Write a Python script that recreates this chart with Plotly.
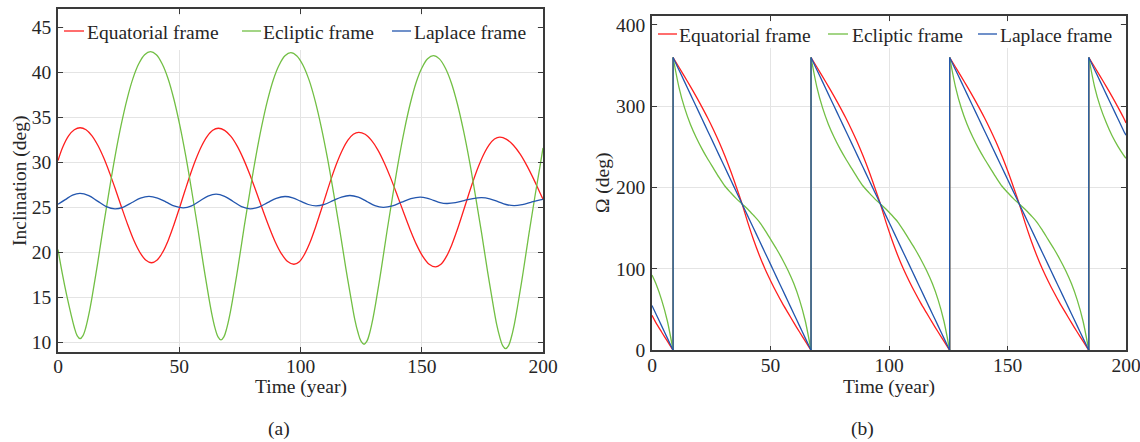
import plotly.graph_objects as go

W, H = 1140, 442

# ---------------- data: (a) inclination ----------------
t_eq = [0, 1.98, 4.35, 6.73,
        9.1, 11.56, 14.02, 16.47, 18.93, 21.39, 23.85, 26.31, 28.76, 31.22, 33.68, 36.14, 38.6,
        40.89, 43.18, 45.48, 47.77, 50.06, 52.35, 54.64, 56.93, 59.23, 61.52, 63.81, 66.1,
        68.7, 71.3, 73.9, 76.5, 79.1, 81.7, 84.3, 86.9, 89.5, 92.1, 94.7, 97.3,
        99.53, 101.75, 103.98, 106.2, 108.43, 110.65, 112.88, 115.1, 117.33, 119.55, 121.78, 124.0,
        126.64, 129.28, 131.93, 134.57, 137.21, 139.85, 142.49, 145.13, 147.78, 150.42, 153.06, 155.7,
        157.91, 160.12, 162.32, 164.53, 166.74, 168.95, 171.16, 173.37, 175.57, 177.78, 179.99, 182.2,
        185.0, 187.8, 190.6, 193.4, 196.2, 198.6, 200]
i_eq = [30.2, 31.7, 32.94, 33.62,
        33.84, 33.62, 32.94, 31.86, 30.44, 28.74, 26.87, 24.93, 23.06, 21.36, 20.03, 19.14, 18.84,
        19.14, 20.02, 21.35, 23.04, 24.9, 26.83, 28.7, 30.39, 31.81, 32.88, 33.56, 33.78,
        33.55, 32.87, 31.79, 30.35, 28.64, 26.75, 24.8, 22.92, 21.21, 19.86, 18.97, 18.67,
        18.96, 19.83, 21.13, 22.79, 24.62, 26.51, 28.35, 30.0, 31.39, 32.45, 33.11, 33.33,
        33.11, 32.43, 31.36, 29.93, 28.24, 26.37, 24.44, 22.57, 20.88, 19.55, 18.67, 18.37,
        18.66, 19.51, 20.79, 22.42, 24.23, 26.09, 27.89, 29.52, 30.89, 31.93, 32.58, 32.8,
        32.55, 31.9, 30.9, 29.6, 28.1, 26.7, 25.9]

t_ec = [0, 1.8, 3.6, 5.47, 6.68, 7.89,
        9.1, 10.31, 11.52, 12.73, 13.94, 16.36, 18.78, 21.2, 23.62, 26.04, 28.46, 30.88, 33.3, 35.72, 38.14,
        40.56, 42.98, 45.4, 47.82, 50.24, 52.66, 55.08, 57.5, 59.92, 62.34, 63.55, 64.76, 65.99, 67.2,
        68.4, 69.6, 70.8, 72.0, 74.4, 76.8, 79.2, 81.6, 84.0, 86.4, 88.8, 91.2, 93.6, 96.0,
        98.52, 101.03, 103.55, 106.07, 108.58, 111.1, 113.62, 116.13, 118.65, 121.17, 122.42, 123.68, 124.94, 126.2,
        127.39, 128.58, 129.77, 130.97, 133.35, 135.73, 138.12, 140.5, 142.88, 145.27, 147.65, 150.03, 152.42, 154.8,
        157.28, 159.77, 162.25, 164.73, 167.22, 169.7, 172.18, 174.67, 177.15, 179.63, 180.87, 182.12, 183.36, 184.6,
        185.8, 187.0, 188.2, 189.4, 191.8, 194.2, 196.6, 199.0, 200]
i_ec = [20.3, 17.6, 15.2, 13.0, 11.7, 10.74,
        10.4, 10.74, 11.7, 13.12, 14.86, 18.8, 23.0, 27.0, 30.8, 34.15, 37.0, 39.3, 40.95, 41.96, 42.3,
        41.95, 40.92, 39.29, 36.98, 34.1, 30.73, 26.92, 22.92, 18.69, 14.75, 12.98, 11.57, 10.6, 10.26,
        10.6, 11.57, 12.98, 14.73, 18.65, 22.87, 26.86, 30.66, 34.01, 36.88, 39.18, 40.81, 41.83, 42.18,
        41.82, 40.79, 39.13, 36.8, 33.89, 30.48, 26.63, 22.58, 18.3, 14.32, 12.5, 11.11, 10.12, 9.78,
        10.12, 11.09, 12.5, 14.27, 18.21, 22.45, 26.46, 30.27, 33.64, 36.53, 38.84, 40.47, 41.5, 41.85,
        41.49, 40.45, 38.79, 36.45, 33.51, 30.10, 26.22, 22.15, 17.85, 13.85, 12.02, 10.63, 9.63, 9.29,
        9.63, 10.61, 12.02, 13.81, 17.78, 22.05, 26.09, 29.93, 31.6]

t_lp = [0, 3, 6, 9.1, 12.7, 16.3, 19.9, 23.5, 27.0, 30.5, 34.0, 37.5,
        41.05, 44.6, 48.15, 51.7, 55.08, 58.45, 61.83, 65.2, 68.7, 72.2, 75.7, 79.2,
        82.8, 86.4, 90.0, 93.6, 96.8, 100.0, 103.2, 106.4, 109.9, 113.4, 116.9, 120.4,
        123.83, 127.25, 130.68, 134.1, 137.9, 141.7, 145.5, 149.3, 152.05, 154.8, 157.55, 160.3,
        163.9, 167.5, 171.1, 174.7, 178.05, 181.4, 184.75, 188.1, 191.5, 195.0, 198.0, 200]
i_lp = [25.33, 25.85, 26.35, 26.54, 26.29, 25.69, 25.08, 24.83, 25.03, 25.53, 26.02, 26.22,
        26.03, 25.58, 25.12, 24.93, 25.15, 25.70, 26.24, 26.46, 26.22, 25.65, 25.07, 24.83,
        25.03, 25.52, 26.0, 26.2, 26.05, 25.68, 25.31, 25.16, 25.33, 25.74, 26.14, 26.31,
        26.12, 25.66, 25.19, 25.0, 25.16, 25.57, 25.96, 26.13, 26.03, 25.78, 25.52, 25.42,
        25.51, 25.75, 25.97, 26.07, 25.94, 25.63, 25.31, 25.18, 25.3, 25.55, 25.76, 25.87]

# ---------------- data: (b) right ascension of node ----------------
t_om = [0, 1.63, 4.05, 6.48, 8.9,
        8.9, 11.33, 13.75, 16.18, 18.6, 21.03, 23.45, 25.88, 28.3, 30.73, 33.15, 35.58, 38.0,
        40.43, 42.85, 45.28, 47.7, 50.13, 52.55, 54.98, 57.4, 59.83, 62.25, 64.68, 67.1,
        67.1, 69.54, 71.98, 74.41, 76.85, 79.29, 81.73, 84.16, 86.6, 89.04, 91.48, 93.91, 96.35,
        98.79, 101.23, 103.66, 106.1, 108.54, 110.98, 113.41, 115.85, 118.29, 120.73, 123.16, 125.6,
        125.6, 128.05, 130.49, 132.94, 135.38, 137.83, 140.28, 142.72, 145.17, 147.61, 150.06, 152.51, 154.95,
        157.4, 159.84, 162.29, 164.74, 167.18, 169.63, 172.07, 174.52, 176.97, 179.41, 181.86, 184.3,
        184.3, 186.75, 189.19, 191.64, 194.08, 196.53, 198.98, 200]
om_eq = [43, 34, 22.5, 11.2, 0,
         360, 348.3, 336.5, 324.5, 312.2, 299.3, 285.9, 271.5, 256, 239.1, 220.7, 200.8, 180,
         157, 136, 117, 100, 85, 71, 58, 46, 34, 22.5, 11.2, 0,
         360, 348.3, 336.5, 324.5, 312.2, 299.3, 285.9, 271.5, 256, 239.1, 220.7, 200.8, 180,
         157, 136, 117, 100, 85, 71, 58, 46, 34, 22.5, 11.2, 0,
         360, 348.3, 336.5, 324.5, 312.2, 299.3, 285.9, 271.5, 256, 239.1, 220.7, 200.8, 180,
         157, 136, 117, 100, 85, 71, 58, 46, 34, 22.5, 11.2, 0,
         360, 348.3, 336.5, 324.5, 312.2, 299.3, 285.9, 279.6]
om_ec = [92.5, 82, 62, 36, 0,
         360, 324, 298, 278, 262, 248, 235.5, 224, 212.5, 202, 194, 186.5, 180,
         173.5, 166, 158, 147.5, 136, 124.5, 112, 98, 82, 62, 36, 0,
         360, 324, 298, 278, 262, 248, 235.5, 224, 212.5, 202, 194, 186.5, 180,
         173.5, 166, 158, 147.5, 136, 124.5, 112, 98, 82, 62, 36, 0,
         360, 324, 298, 278, 262, 248, 235.5, 224, 212.5, 202, 194, 186.5, 180,
         173.5, 166, 158, 147.5, 136, 124.5, 112, 98, 82, 62, 36, 0,
         360, 324, 299, 280, 264, 251, 240, 236]
om_lp = [55, 45, 30, 15, 0,
         360, 345, 330, 315, 300, 285, 270, 255, 240, 225, 210, 195, 180,
         165, 150, 135, 120, 105, 90, 75, 60, 45, 30, 15, 0,
         360, 345, 330, 315, 300, 285, 270, 255, 240, 225, 210, 195, 180,
         165, 150, 135, 120, 105, 90, 75, 60, 45, 30, 15, 0,
         360, 345, 330, 315, 300, 285, 270, 255, 240, 225, 210, 195, 180,
         165, 150, 135, 120, 105, 90, 75, 60, 45, 30, 15, 0,
         360, 345, 330, 315, 300, 285, 270, 264.5]

series_names = ["Equatorial frame", "Ecliptic frame", "Laplace frame"]
colors = ["#ff1f1f", "#72bf44", "#2356ae"]

FONT = "Liberation Serif"
TXT = "#262626"
FS = 19.5


def split_jumps(t, v):
    """Insert gaps at the 0 -> 360 wraps and keep the vertical wrap segment."""
    xs, ys = [t[0]], [v[0]]
    for i in range(1, len(t)):
        if v[i] - v[i - 1] > 180:
            xs += [None, t[i - 1], t[i], None, t[i]]
            ys += [None, v[i - 1], v[i], None, v[i]]
        else:
            xs.append(t[i])
            ys.append(v[i])
    return xs, ys


fig = go.Figure()
left = [(t_eq, i_eq), (t_ec, i_ec), (t_lp, i_lp)]
for (tt, vv), nm, c in zip(left, series_names, colors):
    fig.add_trace(go.Scatter(x=tt, y=vv, mode="lines", name=nm, showlegend=False,
                             line=dict(color=c, width=1.3, shape="spline", smoothing=1.0),
                             xaxis="x", yaxis="y"))
right = [om_eq, om_ec, om_lp]
for vv, nm, c in zip(right, series_names, colors):
    xs, ys = split_jumps(t_om, vv)
    fig.add_trace(go.Scatter(x=xs, y=ys, mode="lines", name=nm, showlegend=False,
                             connectgaps=False,
                             line=dict(color=c, width=1.3, shape="spline", smoothing=0.8),
                             xaxis="x2", yaxis="y2"))

# pixel geometry of the two axes boxes
L = dict(x0=58, x1=543, y0=9.3, y1=352)
R = dict(x0=652, x1=1126, y0=15.7, y1=350.3)

axis_common = dict(showline=True, linecolor="#3a3a3a", linewidth=1.6, mirror="ticks",
                   ticks="inside", ticklen=5, tickwidth=1.2, tickcolor="#3a3a3a",
                   showgrid=True, gridcolor="#e4e4e4", gridwidth=1, zeroline=False,
                   ticklabeloverflow="allow",
                   tickfont=dict(family=FONT, size=FS, color=TXT))
xtick = dict(ticklabelstandoff=-4)
ytick = dict(ticklabelstandoff=1)

fig.update_layout(
    width=W, height=H, margin=dict(l=0, r=0, t=0, b=0, autoexpand=False),
    paper_bgcolor="white", plot_bgcolor="white", showlegend=False,
    xaxis=dict(domain=[L["x0"] / W, L["x1"] / W], range=[0, 200],
               tickvals=[0, 50, 100, 150, 200], anchor="y", **axis_common, **xtick),
    yaxis=dict(domain=[1 - L["y1"] / H, 1 - L["y0"] / H], range=[8.92, 47.0],
               tickvals=[10, 15, 20, 25, 30, 35, 40, 45], anchor="x", **axis_common, **ytick),
    xaxis2=dict(domain=[R["x0"] / W, R["x1"] / W], range=[0, 200],
                tickvals=[0, 50, 100, 150, 200], anchor="y2", **axis_common, **xtick),
    yaxis2=dict(domain=[1 - R["y1"] / H, 1 - R["y0"] / H], range=[0, 411.4],
                tickvals=[0, 100, 200, 300, 400], anchor="x2", **axis_common, **ytick),
)

shapes = []
annotations = []


def px_rect(x0, x1, y0, y1):
    return dict(type="rect", xref="paper", yref="paper", layer="above",
                x0=x0 / W, x1=x1 / W, y0=1 - y1 / H, y1=1 - y0 / H,
                fillcolor="white", line=dict(width=0))


# legend backgrounds (hide grid under legend, keep frame ticks visible)
shapes.append(px_rect(63.8, 537.2, 15.2, 50))
shapes.append(px_rect(657.8, 1120.2, 21.5, 48))


def legend(items, yline, ytext):
    for (lx0, lx1, tx), nm, c in zip(items, series_names, colors):
        shapes.append(dict(type="line", xref="paper", yref="paper", layer="above",
                           x0=lx0 / W, x1=lx1 / W, y0=1 - yline / H, y1=1 - yline / H,
                           line=dict(color=c, width=1.3)))
        annotations.append(dict(xref="paper", yref="paper", x=tx / W, y=1 - ytext / H,
                                xanchor="left", yanchor="middle", showarrow=False, text=nm,
                                font=dict(family=FONT, size=FS, color=TXT)))


legend([(64, 84, 85), (242, 261, 261), (392, 411, 412)], 31, 32.5)
legend([(658, 677, 676.5), (828, 848, 850), (978, 997, 997.5)], 34, 35.5)


def text(x, y, s, angle=0):
    annotations.append(dict(xref="paper", yref="paper", x=x / W, y=1 - y / H,
                            xanchor="center", yanchor="middle", showarrow=False, text=s,
                            textangle=angle, font=dict(family=FONT, size=FS, color=TXT)))


text(300.5, 387, "Time (year)")
text(889, 387, "Time (year)")
text(20, 181, "Inclination (deg)", -90)
text(603, 183, "Ω (deg)", -90)
text(278.5, 429, "(a)")
text(862.5, 429, "(b)")

fig.update_layout(shapes=shapes, annotations=annotations)
fig.write_html("out.html", config={"displayModeBar": False},
               post_script="document.body.style.margin='0';document.body.style.overflow='hidden';")
